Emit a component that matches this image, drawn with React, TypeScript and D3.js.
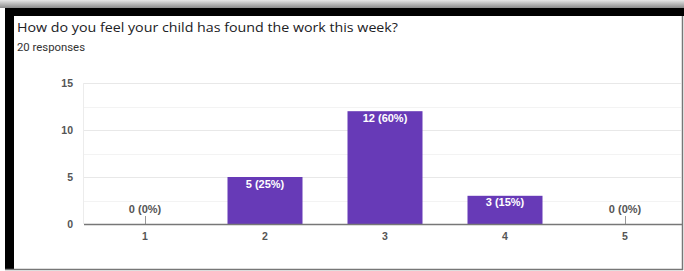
import * as d3 from "d3";
import { useEffect, useRef } from "react";

const categories = ["1", "2", "3", "4", "5"];
const counts = [0, 5, 12, 3, 0];
const percents = ["0%", "25%", "60%", "15%", "0%"];
const yTicks = [0, 5, 10, 15];

const title = "How do you feel your child has found the work this week?";
const subtitle = "20 responses";

export default function App() {
  const svgRef = useRef<SVGSVGElement>(null);
  const width = 684;
  const height = 271;

  useEffect(() => {
    if (!svgRef.current) return;
    document.body.style.margin = "0";
    const svg = d3.select(svgRef.current);
    svg.selectAll("*").remove();

    // Frame: shadow on top, black edge, grey outline
    const defs = svg.append("defs");
    const grad = defs
      .append("linearGradient")
      .attr("id", "top-shade")
      .attr("x1", 0)
      .attr("y1", 0)
      .attr("x2", 0)
      .attr("y2", 1);
    grad.append("stop").attr("offset", "0%").attr("stop-color", "#e6e6e6");
    grad.append("stop").attr("offset", "100%").attr("stop-color", "#8a8a8a");

    svg.append("rect").attr("width", width).attr("height", height).attr("fill", "#fff");
    svg.append("rect").attr("width", width).attr("height", 8).attr("fill", "url(#top-shade)");
    svg.append("rect").attr("x", 5).attr("y", 8).attr("width", width - 5).attr("height", 8).attr("fill", "#000");
    svg.append("rect").attr("x", 5).attr("y", 8).attr("width", 9).attr("height", height - 10).attr("fill", "#000");
    svg.append("line").attr("x1", 5).attr("x2", 683).attr("y1", 269.5).attr("y2", 269.5).attr("stroke", "#777").attr("stroke-width", 1.5);
    svg.append("line").attr("x1", 682.5).attr("x2", 682.5).attr("y1", 16).attr("y2", 270).attr("stroke", "#777").attr("stroke-width", 1.5);

    // Heading
    svg
      .append("text")
      .attr("x", 17)
      .attr("y", 32)
      .attr("textLength", 381)
      .attr("lengthAdjust", "spacingAndGlyphs")
      .style("font-family", "'Open Sans', Roboto, sans-serif")
      .style("font-size", "13.5px")
      .style("fill", "#202124")
      .text(title);
    svg
      .append("text")
      .attr("x", 17)
      .attr("y", 51)
      .attr("textLength", 68)
      .attr("lengthAdjust", "spacingAndGlyphs")
      .style("font-family", "Roboto, sans-serif")
      .style("font-size", "10.5px")
      .style("fill", "#333")
      .text(subtitle);

    // Chart area
    const x = d3.scaleBand().domain(categories).range([85, 685]).paddingInner(0.375).paddingOuter(0.1875);
    const y = d3.scaleLinear().domain([0, 15]).range([224, 83]);

    const g = svg.append("g");

    // minor grid lines
    const minor = d3.range(2.5, 15, 5);
    g.selectAll(".minor")
      .data(minor)
      .enter()
      .append("line")
      .attr("x1", 84)
      .attr("x2", 681)
      .attr("y1", (d) => Math.round(y(d)) + 0.5)
      .attr("y2", (d) => Math.round(y(d)) + 0.5)
      .attr("stroke", "#f3f3f3");

    g.selectAll(".major")
      .data(yTicks.filter((d) => d > 0))
      .enter()
      .append("line")
      .attr("x1", 84)
      .attr("x2", 681)
      .attr("y1", (d) => Math.round(y(d)) + 0.5)
      .attr("y2", (d) => Math.round(y(d)) + 0.5)
      .attr("stroke", "#e8e8e8");

    g.append("line")
      .attr("x1", 83.5)
      .attr("x2", 83.5)
      .attr("y1", y(15))
      .attr("y2", y(0))
      .attr("stroke", "#ececec");

    // y tick labels
    g.selectAll(".ylab")
      .data(yTicks)
      .enter()
      .append("text")
      .attr("x", 73)
      .attr("y", (d) => y(d) + 4)
      .attr("text-anchor", "end")
      .style("font-family", "Arial, 'Liberation Sans', sans-serif")
      .style("font-size", "10.5px")
      .style("font-weight", "bold")
      .style("fill", "#555")
      .text((d) => d);

    // bars
    const rows = categories.map((c, i) => ({ c, v: counts[i], p: percents[i] }));
    g.selectAll(".bar")
      .data(rows.filter((d) => d.v > 0))
      .enter()
      .append("rect")
      .attr("x", (d) => x(d.c)!)
      .attr("y", (d) => y(d.v))
      .attr("width", x.bandwidth())
      .attr("height", (d) => y(0) - y(d.v))
      .attr("fill", "#673ab7");

    // tiny markers for zero bars
    g.selectAll(".zero")
      .data(rows.filter((d) => d.v === 0))
      .enter()
      .append("line")
      .attr("x1", (d) => Math.round(x(d.c)! + x.bandwidth() / 2) + 0.5)
      .attr("x2", (d) => Math.round(x(d.c)! + x.bandwidth() / 2) + 0.5)
      .attr("y1", y(0) - 8)
      .attr("y2", y(0))
      .attr("stroke", "#999");

    // baseline
    g.append("line")
      .attr("x1", 84)
      .attr("x2", 682)
      .attr("y1", y(0) + 0.5)
      .attr("y2", y(0) + 0.5)
      .attr("stroke", "#777")
      .attr("stroke-width", 1.5);

    // value labels
    g.selectAll(".val")
      .data(rows)
      .enter()
      .append("text")
      .attr("x", (d) => x(d.c)! + x.bandwidth() / 2)
      .attr("y", (d) => (d.v > 0 ? y(d.v) + 10.5 : y(0) - 11))
      .attr("text-anchor", "middle")
      .style("font-family", "Arial, 'Liberation Sans', sans-serif")
      .style("font-size", "11px")
      .style("font-weight", "bold")
      .style("fill", (d) => (d.v > 0 ? "#fff" : "#555"))
      .text((d) => `${d.v} (${d.p})`);

    // category labels
    g.selectAll(".xlab")
      .data(categories)
      .enter()
      .append("text")
      .attr("x", (d) => x(d)! + x.bandwidth() / 2)
      .attr("y", 240)
      .attr("text-anchor", "middle")
      .style("font-family", "Arial, 'Liberation Sans', sans-serif")
      .style("font-size", "10.5px")
      .style("font-weight", "bold")
      .style("fill", "#555")
      .text((d) => d);
  }, []);

  return (
    <svg
      ref={svgRef}
      width={width}
      height={height}
      style={{ position: "absolute", left: 0, top: 0, display: "block" }}
    />
  );
}
